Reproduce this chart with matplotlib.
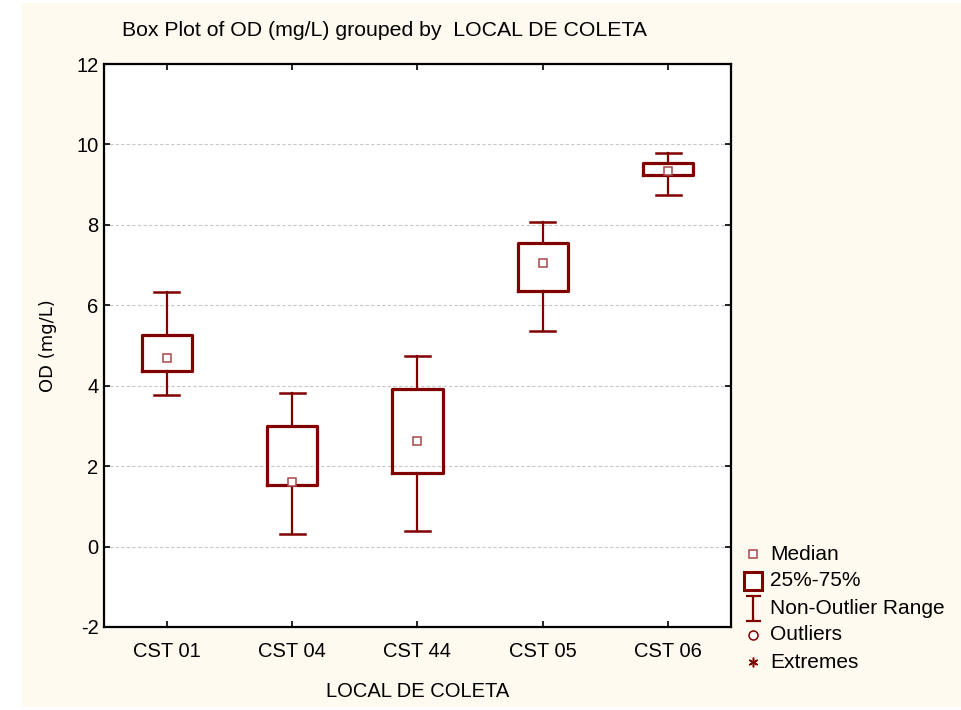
import matplotlib

matplotlib.use("Agg")
import matplotlib.pyplot as plt
from matplotlib.lines import Line2D
from matplotlib.patches import Rectangle
from matplotlib.path import Path

# OD (mg/L) summary per sampling site
sites = ["CST 01", "CST 04", "CST 44", "CST 05", "CST 06"]
medians = [4.68, 1.61, 2.62, 7.04, 9.35]
q1 = [4.37, 1.54, 1.83, 6.35, 9.23]
q3 = [5.26, 3.00, 3.92, 7.55, 9.53]
whis_lo = [3.77, 0.32, 0.39, 5.35, 8.74]
whis_hi = [6.34, 3.81, 4.75, 8.07, 9.78]

legend_labels = ["Median", "25%-75%", "Non-Outlier Range", "Outliers", "Extremes"]

RED = "#800000"
plt.rcParams["font.family"] = ["Liberation Sans", "DejaVu Sans"]
plt.rcParams["axes.unicode_minus"] = False

fig = plt.figure(figsize=(9.61, 7.10), dpi=100)
fig.patch.set_facecolor("white")
fig.add_artist(Rectangle((22 / 961, 3 / 710), 939 / 961, 704 / 710,
                         transform=fig.transFigure, facecolor="#FFFAF0",
                         edgecolor="none", zorder=-10))

ax = fig.add_axes([104 / 961, 1 - 627 / 710, 627 / 961, 563 / 710])
ax.set_facecolor("white")

stats = []
for i, name in enumerate(sites):
    stats.append({"label": name, "med": medians[i], "q1": q1[i], "q3": q3[i],
                  "whislo": whis_lo[i], "whishi": whis_hi[i], "fliers": []})

positions = [i + 0.5 for i in range(len(sites))]
ax.bxp(stats, positions=positions, widths=0.4, capwidths=0.2,
       boxprops=dict(color=RED, linewidth=2.3),
       whiskerprops=dict(color=RED, linewidth=1.6),
       capprops=dict(color=RED, linewidth=1.8),
       medianprops=dict(linestyle="none"),
       showfliers=False, zorder=3)
ax.plot(positions, medians, linestyle="none", marker="s", markersize=6.2,
        markerfacecolor="white", markeredgecolor="#a84848",
        markeredgewidth=1.1, zorder=4)

ax.set_xlim(0, 5)
ax.set_ylim(-2, 12)
ax.set_yticks(range(-2, 13, 2))
ax.set_xticks(positions)
ax.set_xticklabels(sites)
ax.yaxis.grid(True, linestyle=(0, (3, 2)), color="#c8c8c8", linewidth=0.8)
ax.set_axisbelow(True)
ax.tick_params(direction="in", length=4, width=1.2, top=True, right=True,
               labelsize=14.5, colors="black")
ax.tick_params(axis="x", pad=11)
ax.tick_params(axis="y", pad=4)
for spine in ax.spines.values():
    spine.set_linewidth(1.6)

ax.set_xlabel("LOCAL DE COLETA", fontsize=14.5, labelpad=15)
ax.set_ylabel("OD (mg/L)", fontsize=13, family="DejaVu Sans", labelpad=14)
fig.text(122 / 961, 1 - 31 / 710, "Box Plot of OD (mg/L) grouped by  LOCAL DE COLETA",
         fontsize=15.3, va="center", ha="left")

# legend drawn as figure-level symbols and labels
ibeam = Path([(-0.6, 1), (0.6, 1), (0, 1), (0, -1), (-0.6, -1), (0.6, -1)],
             [Path.MOVETO, Path.LINETO, Path.MOVETO, Path.LINETO, Path.MOVETO, Path.LINETO])
symbols = [
    dict(marker="s", markersize=6.2, markerfacecolor="white", markeredgecolor="#a84848", markeredgewidth=1.1),
    dict(marker="s", markersize=13.5, markerfacecolor="white", markeredgecolor=RED, markeredgewidth=2.2),
    dict(marker=ibeam, markersize=18, markerfacecolor="none", markeredgecolor=RED, markeredgewidth=1.6),
    dict(marker="o", markersize=6.5, markerfacecolor="white", markeredgecolor=RED, markeredgewidth=1.1),
    dict(marker=(6, 2, 0), markersize=7, markeredgecolor=RED, markeredgewidth=1.1),
]
for k, (label, sym) in enumerate(zip(legend_labels, symbols)):
    y = 1 - (554 + 27 * k) / 710
    fig.add_artist(Line2D([753 / 961], [y], transform=fig.transFigure, linestyle="none", **sym))
    fig.text(770 / 961, y, label, fontsize=15, va="center", ha="left")

fig.savefig("out.png", dpi=100, facecolor=fig.get_facecolor())
